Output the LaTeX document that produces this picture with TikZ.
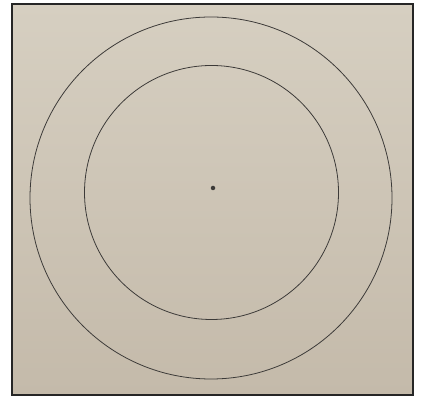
\documentclass[tikz,border=0pt]{standalone}
\usepackage{xcolor}
\usepackage{tikz}
\definecolor{paperlight}{RGB}{214,207,193}
\definecolor{paperdark}{RGB}{196,186,170}
\definecolor{pencil}{RGB}{60,58,56}
\tikzset{ring/.style={draw=pencil, line width=0.45pt}}

\begin{document}
\begin{tikzpicture}
  \useasboundingbox (0,0) rectangle (8.44,7.92);
  \fill[white] (0,0) rectangle (8.44,7.92);
  % sheet of paper
  \shade[top color=paperlight, bottom color=paperdark] (0.24,0.02) rectangle (8.26,7.84);
  \draw[black!85, line width=1.3pt] (0.24,0.02) rectangle (8.26,7.84);
  % rings and centre point
  \coordinate (outerc) at (4.22,3.96);
  \coordinate (innerc) at (4.23,4.07);
  \coordinate (centre) at (4.26,4.16);
  \draw[ring] (outerc) circle (3.62);
  \draw[ring] (innerc) circle (2.54);
  \fill[pencil] (centre) circle (0.045);
\end{tikzpicture}
\end{document}
